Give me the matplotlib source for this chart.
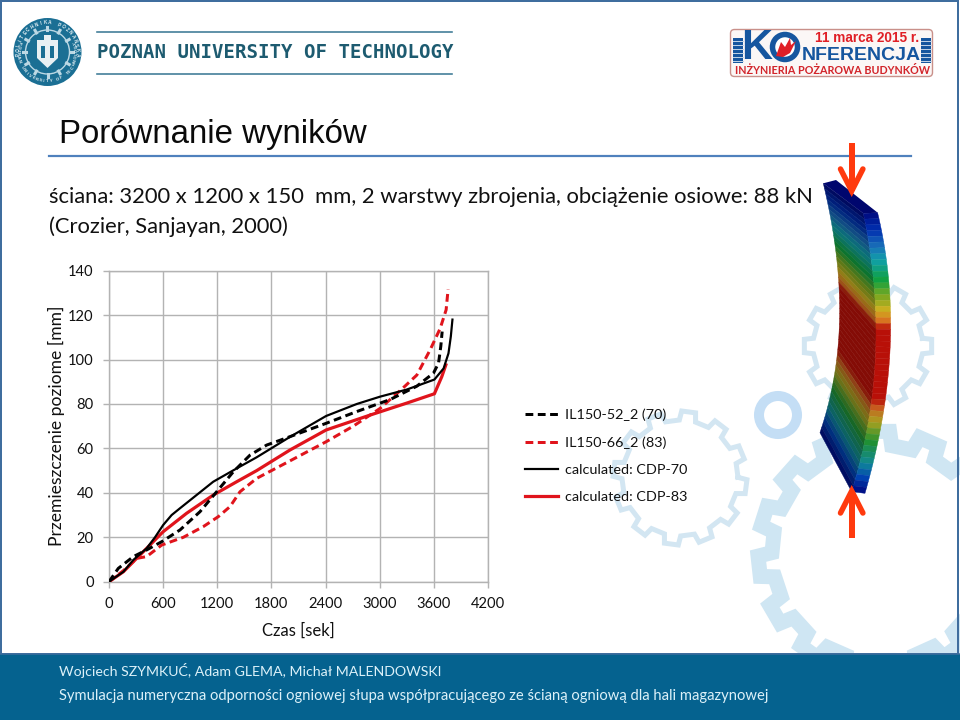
import matplotlib
matplotlib.use("Agg")
import matplotlib.pyplot as plt
import numpy as np
from matplotlib.colors import LinearSegmentedColormap
from matplotlib.patches import Circle, FancyBboxPatch, Polygon, Rectangle

W, H = 960, 720

# curves: time [s], displacement [mm]
exp70_t = [0, 103, 270, 417, 584, 787, 1008, 1193, 1378, 1563, 1747, 2006, 2406, 2746, 3115, 3411, 3596, 3652, 3677, 3692]
exp70_y = [0, 6, 11.3, 14.3, 18, 23.3, 31.5, 40.5, 49.5, 57, 61.5, 65.3, 71.3, 76.6, 82, 88, 93.9, 98.4, 106, 112.6]
exp83_t = [0, 160, 306, 417, 584, 824, 1045, 1212, 1341, 1452, 1636, 2006, 2406, 2706, 3004, 3226, 3411, 3559, 3670, 3736, 3758]
exp83_y = [0, 5, 10.5, 11.3, 16.5, 20, 24.8, 29.3, 33.8, 40.5, 46.5, 54.4, 63, 70, 78, 86, 93, 104.4, 114, 122.4, 131.7]
cdp70_t = [0, 160, 270, 417, 510, 600, 694, 785, 970, 1155, 1415, 1636, 2006, 2406, 2746, 3004, 3300, 3606, 3708, 3762, 3788, 3806]
cdp70_y = [0, 4.5, 9.8, 15, 20, 25.5, 30, 33, 39, 45, 51, 56, 65.2, 74.6, 80, 83.3, 86.5, 91, 96, 102.8, 110.4, 118]
cdp83_t = [0, 160, 306, 417, 600, 860, 1155, 1415, 1636, 2006, 2406, 2893, 3300, 3606, 3688, 3733]
cdp83_y = [0, 4.5, 10.5, 15, 22.5, 30.8, 39, 45, 50, 59.3, 68.3, 75, 80.4, 84.6, 92.3, 97.6]

x_ticks = [0, 600, 1200, 1800, 2400, 3000, 3600, 4200]
y_ticks = [0, 20, 40, 60, 80, 100, 120, 140]
series_labels = ["IL150-52_2 (70)", "IL150-66_2 (83)", "calculated: CDP-70", "calculated: CDP-83"]

title = "Porównanie wyników"
subtitle_1 = "ściana: 3200 x 1200 x 150  mm, 2 warstwy zbrojenia, obciążenie osiowe: 88 kN"
subtitle_2 = "(Crozier, Sanjayan, 2000)"
footer_1 = "Wojciech SZYMKUĆ, Adam GLEMA, Michał MALENDOWSKI"
footer_2 = "Symulacja numeryczna odporności ogniowej słupa współpracującego ze ścianą ogniową dla hali magazynowej"

FONT = "Lato"
BLUE = "#05628f"
PALE = "#d3e6f2"
px = 0.72  # one pixel in points at dpi 100

fig = plt.figure(figsize=(W / 100, H / 100), dpi=100, facecolor="white")

# slide background, in pixel coordinates
bg = fig.add_axes([0, 0, 1, 1])
bg.set_xlim(0, W)
bg.set_ylim(H, 0)
bg.axis("off")


def gear(cx, cy, r_in, r_out, teeth, lw, color, start=0.0):
    a = []
    r = []
    step = 2 * np.pi / teeth
    for i in range(teeth):
        th = start + i * step
        a += [th - step * 0.27, th - step * 0.2, th + step * 0.2, th + step * 0.27]
        r += [r_in, r_out, r_out, r_in]
    a = np.array(a + a[:1])
    r = np.array(r + r[:1])
    bg.plot(cx + r * np.cos(a), cy + r * np.sin(a), color=color, lw=lw * px, zorder=1, solid_joinstyle="miter")


gear(880, 553, 108, 122, 15, 15, "#cfe6f3", 0.1)
gear(680, 478, 58, 67, 12, 5, PALE, 0.13)
gear(868, 346, 55, 64, 12, 5, PALE, 0.0)
bg.add_patch(Circle((778, 415), 19, fill=False, ec="#c4def5", lw=10 * px, zorder=1))

# frame, footer
bg.add_patch(Rectangle((0.5, 0.5), W - 2.5, 653, fill=False, ec="#3f6d9e", lw=2 * px, zorder=2))
bg.add_patch(Rectangle((0, 654), W, 66, fc=BLUE, ec="none", zorder=3))
bg.plot([0, W], [653.5, 653.5], color="#3f6d9e", lw=1.5 * px, zorder=3)
bg.text(59, 671, footer_1, color="#dcf1f9", family=FONT, fontsize=10.15, va="center", zorder=4)
bg.text(59, 696, footer_2, color="#dcf1f9", family=FONT, fontsize=10.6, va="center", zorder=4)

# title block
bg.text(59, 134, title, family="Liberation Sans", fontsize=23.8, va="center", color="#0a0a0a")
bg.plot([49, 911], [155.5, 155.5], color="#4f81bd", lw=2.2 * px, zorder=2)
bg.text(49, 197, subtitle_1, family=FONT, fontsize=15.8, va="center", color="#111111")
bg.text(49, 227, subtitle_2, family=FONT, fontsize=15.8, va="center", color="#111111")

# university logo
TEAL = "#1b6f94"
bg.add_patch(Circle((47.5, 52), 34, fc=TEAL, ec="none"))
bg.add_patch(Circle((47.5, 52), 22, fc="none", ec="#bcd8e4", lw=1.0))
gear_a = np.linspace(0, 2 * np.pi, 13)
for a in gear_a[:-1]:
    bg.plot([47.5 + 22 * np.cos(a), 47.5 + 25 * np.cos(a)], [52 + 22 * np.sin(a), 52 + 25 * np.sin(a)],
            color="#bcd8e4", lw=2.2)
bg.add_patch(Polygon([(37, 40), (58, 40), (58, 58), (47.5, 68), (37, 58)], fc="#e8f0f3", ec="none"))
bg.add_patch(Rectangle((41, 46), 4, 12, fc=TEAL, ec="none"))
bg.add_patch(Rectangle((50, 46), 4, 12, fc=TEAL, ec="none"))
bg.add_patch(Rectangle((44, 35), 7, 5, fc="#e8f0f3", ec="none"))
top_txt = "POLITECHNIKA POZNAŃSKA"
for i, ch in enumerate(top_txt):
    a = np.deg2rad(-90 + (i - (len(top_txt) - 1) / 2) * 9.0)
    bg.text(47.5 + 29.5 * np.cos(a), 52 + 29.5 * np.sin(a), ch, color="#e8f3f7", fontsize=3.4, weight="bold",
            family="Liberation Sans", ha="center", va="center", rotation=-np.rad2deg(a) - 90)
bot_txt = "POZNAN UNIVERSITY OF TECHNOLOGY"
for i, ch in enumerate(bot_txt):
    a = np.deg2rad(90 - (i - (len(bot_txt) - 1) / 2) * 7.2)
    bg.text(47.5 + 29.5 * np.cos(a), 52 + 29.5 * np.sin(a), ch, color="#e8f3f7", fontsize=3.0, weight="bold",
            family="Liberation Sans", ha="center", va="center", rotation=90 - np.rad2deg(a))
bg.plot([97, 452], [31.5, 31.5], color="#3d7a96", lw=1.6 * px)
bg.plot([97, 452], [73.5, 73.5], color="#3d7a96", lw=1.6 * px)
bg.text(97, 53, "POZNAN UNIVERSITY OF TECHNOLOGY", family="DejaVu Sans Mono", weight="bold", fontsize=13.7,
        color="#1d5b70", va="center")

# conference logo
LOGO_BLUE = "#16569f"
LOGO_RED = "#e01f26"
bg.add_patch(FancyBboxPatch((732, 31), 199, 44, boxstyle="round,pad=1.5,rounding_size=4", fc="#fbf7f6", ec="#c9908a", lw=1.0))
for x0 in (733, 921):
    bg.add_patch(Rectangle((x0, 38), 10, 25, fc=LOGO_BLUE, ec="none"))
    for yy in np.arange(41, 63, 4):
        bg.plot([x0, x0 + 10], [yy, yy], color="#c5d5e8", lw=0.7)
bg.text(741, 48, "K", family="Liberation Sans", weight="bold", fontsize=31, color=LOGO_BLUE, va="center")
bg.add_patch(Circle((785, 47), 12.5, fc="white", ec=LOGO_BLUE, lw=5.5 * px))
bg.add_patch(Polygon([(776, 56), (781, 42), (785, 47), (790, 38), (791, 45), (796, 41), (790, 53), (783, 57)], fc=LOGO_RED, ec="none"))
bg.text(802, 55, "NFERENCJA", family="Liberation Sans", weight="bold", fontsize=14.0, color=LOGO_BLUE, va="center")
bg.text(815, 37.5, "11 marca 2015 r.", family="Liberation Sans", weight="bold", fontsize=9.8, color=LOGO_RED, va="center")
bg.text(735, 70, "INŻYNIERIA POŻAROWA BUDYNKÓW", family="Lato", weight="bold", fontsize=7.75, color="#d2242a", va="center")

# deformed wall (decoration), outline points in pixels
left_y = 130 + np.array([160, 350, 530, 720, 908]) / 3
left_x = 700 + np.array([370, 405, 420, 405, 360]) / 3
mid_y = 130 + np.array([250, 600, 810, 1085]) / 3
mid_x = 700 + np.array([490, 528, 515, 455]) / 3
right_y = 130 + np.array([248, 450, 620, 810, 1090]) / 3
right_x = 700 + np.array([533, 565, 573, 555, 495]) / 3
left_fit = np.polyfit(left_y, left_x, 3)
mid_fit = np.polyfit(mid_y, mid_x, 3)
right_fit = np.polyfit(right_y, right_x, 3)
wall_cmap = LinearSegmentedColormap.from_list("wall", [
    (0, "#000a80"), (0.06, "#0030b0"), (0.12, "#1a70b8"), (0.17, "#10a0a8"), (0.24, "#10a040"),
    (0.30, "#80a820"), (0.35, "#d0b020"), (0.39, "#d86a20"), (0.415, "#b81008"), (0.67, "#b81008"),
    (0.70, "#c86020"), (0.75, "#a8a020"), (0.82, "#209030"), (0.90, "#108898"), (0.95, "#0040b0"), (1, "#000a80")])


def edge(ys, fit, t):
    y = ys[0] + t * (ys[-1] - ys[0])
    return np.polyval(fit, y), y


n_bands = 48
for i in range(n_bands):
    t0, t1 = i / n_bands, (i + 1) / n_bands
    c = np.array(wall_cmap((t0 + t1) / 2))
    lx0, ly0 = edge(left_y, left_fit, t0)
    lx1, ly1 = edge(left_y, left_fit, t1)
    mx0, my0 = edge(mid_y, mid_fit, t0)
    mx1, my1 = edge(mid_y, mid_fit, t1)
    rx0, ry0 = edge(right_y, right_fit, t0)
    rx1, ry1 = edge(right_y, right_fit, t1)
    dark = c.copy()
    dark[:3] *= 0.72
    bg.add_patch(Polygon([(lx0, ly0), (mx0, my0), (mx1, my1), (lx1, ly1)], fc=dark, ec=dark, lw=0.3, zorder=5))
    bg.add_patch(Polygon([(mx0, my0), (rx0, ry0), (rx1, ry1), (mx1, my1)], fc=c, ec=c, lw=0.3, zorder=5))
bg.add_patch(Polygon([(823.3, 183.3), (836, 180), (877.7, 212.7), (863.3, 213.3)], fc="#00066e", ec="none", zorder=5))

# load arrows
ORANGE = "#ff3a0e"
for tail, tip, barb in [(143, 191, 169), (538, 491, 513)]:
    bg.plot([851.7, 851.7], [tail, tip], color=ORANGE, lw=6 * px, zorder=6, solid_capstyle="butt")
    bg.plot([840.5, 851.7, 862.9], [barb, tip, barb], color=ORANGE, lw=5.5 * px, zorder=6,
            solid_capstyle="round", solid_joinstyle="miter")

# chart
x0, x1, y_top, y_bot = 109, 488, 270.7, 581.7
ax = fig.add_axes([x0 / W, 1 - y_bot / H, (x1 - x0) / W, (y_bot - y_top) / H])
ax.patch.set_alpha(0)
ax.plot(exp70_t, exp70_y, color="black", lw=3 * px, linestyle=(0, (2.6, 1.5)), label=series_labels[0], zorder=4)
ax.plot(exp83_t, exp83_y, color="#e0141c", lw=3 * px, linestyle=(0, (2.6, 1.5)), label=series_labels[1], zorder=3)
ax.plot(cdp70_t, cdp70_y, color="black", lw=2.2 * px, label=series_labels[2], zorder=4)
ax.plot(cdp83_t, cdp83_y, color="#e0141c", lw=3.2 * px, label=series_labels[3], zorder=3)
ax.set_xlim(0, 4200)
ax.set_ylim(0, 140)
ax.set_xticks(x_ticks)
ax.set_yticks(y_ticks)
ax.grid(True, color="#b3b3b3", lw=1.4 * px)
ax.set_axisbelow(True)
for s in ax.spines.values():
    s.set_color("#b3b3b3")
    s.set_linewidth(1.4 * px)
ax.tick_params(length=4, width=1.4 * px, color="#b3b3b3", labelsize=10.6, labelcolor="#111111", pad=7)
for lab in ax.get_xticklabels() + ax.get_yticklabels():
    lab.set_family(FONT)
ax.set_xlabel("Czas [sek]", family=FONT, fontsize=12, color="#111111", labelpad=8)
fig.text(56 / W, 1 - 426 / H, "Przemieszczenie poziome [mm]", family=FONT, fontsize=12.6, color="#111111",
         rotation=90, ha="center", va="center")

leg = ax.legend(loc="upper left", bbox_to_anchor=(513 / W, 1 - 397 / H), bbox_transform=fig.transFigure,
                frameon=False, handlelength=2.3, handletextpad=0.5, labelspacing=1.05, borderpad=0.3,
                prop={"family": FONT, "size": 10.4})
for t in leg.get_texts():
    t.set_color("#111111")

fig.savefig("out.png", dpi=100, facecolor="white")
